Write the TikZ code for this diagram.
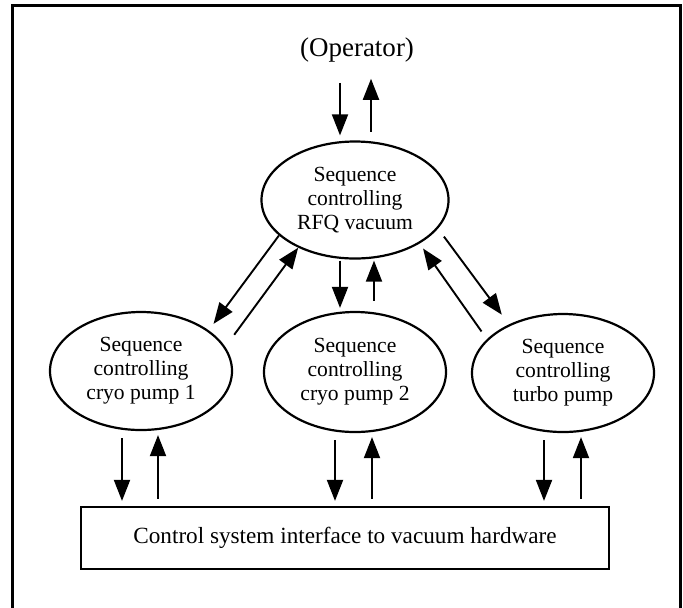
\documentclass[tikz,border=0pt]{standalone}
\usepackage{fontspec}
\setmainfont{Liberation Serif}
\usepackage{tikz}
\usetikzlibrary{shapes,arrows,arrows.meta,positioning,calc}

\begin{document}
\begin{tikzpicture}[x=0.5pt, y=-0.5pt,
    >={Triangle[length=10.5pt,width=8pt]},
    seq/.style={ellipse, draw, line width=1.1pt, inner sep=1pt, align=center,
                minimum width=91pt, minimum height=59pt,
                font=\fontsize{10.8}{12}\selectfont},
    flow/.style={->, line width=0.95pt}]
    \useasboundingbox (0,0) rectangle (683,607);
    % outer frame (open at the bottom)
    \draw[line width=1.5pt] (12,620) -- (12,5) -- (680,5) -- (680,620);

    \node[anchor=base, inner sep=0pt, font=\fontsize{13.5}{15}\selectfont] (op) at (357,56) {(Operator)};
    \node[seq, minimum width=93.5pt, minimum height=58.5pt] (rfq) at (355,200) {Sequence\\controlling\\RFQ vacuum};
    \node[seq] (cryoA) at (141,371) {Sequence\\controlling\\cryo pump 1};
    \node[seq, minimum height=60pt] (cryoB) at (355,372) {Sequence\\controlling\\cryo pump 2};
    \node[seq] (turbo) at (563,373) {Sequence\\controlling\\turbo pump};
    \node[draw, line width=1.1pt, minimum width=264pt, minimum height=31pt,
          font=\fontsize{11.6}{13}\selectfont] (hw) at (345,538) {Control system interface to vacuum hardware};

    % operator <-> RFQ vacuum
    \draw[flow, shorten <=10.3pt, shorten >=2.5pt] ($(op.south)+(-17,0)$) -- ($(rfq.north)+(-15,0)$);
    \draw[flow, shorten <=4.4pt, shorten >=8.3pt] ($(rfq.north)+(16,0)$) -- ($(op.south)+(14,0)$);

    % RFQ vacuum <-> pump sequences
    \draw[flow, shorten >=4pt] (rfq.205) -- (cryoA.31);
    \draw[flow, shorten <=7.5pt] (cryoA.16) -- (rfq.220);
    \draw[flow, shorten <=0.5pt, shorten >=1.5pt] ($(rfq.south)+(-15,0)$) -- ($(cryoB.north)+(-15,0)$);
    \draw[flow, shorten <=5pt, shorten >=0.5pt] ($(cryoB.north)+(19,0)$) -- ($(rfq.south)+(19,0)$);
    \draw[flow, shorten <=5pt, shorten >=6pt] (rfq.341) -- (turbo.138);
    \draw[flow, shorten <=4.7pt, shorten >=3pt] (turbo.156) -- (rfq.326);

    % pump sequences <-> hardware interface
    \draw[flow, shorten <=3.5pt, shorten >=2.5pt] ($(cryoA.south)+(-19,0)$) -- ($(hw.north)+(-223,0)$);
    \draw[flow, shorten <=3.5pt, shorten >=2pt] ($(hw.north)+(-187,0)$) -- ($(cryoA.south)+(17,0)$);
    \draw[flow, shorten <=3.5pt, shorten >=2.5pt] ($(cryoB.south)+(-20,0)$) -- ($(hw.north)+(-10,0)$);
    \draw[flow, shorten <=3.5pt, shorten >=2pt] ($(hw.north)+(27,0)$) -- ($(cryoB.south)+(17,0)$);
    \draw[flow, shorten <=3.5pt, shorten >=2.5pt] ($(turbo.south)+(-19,0)$) -- ($(hw.north)+(199,0)$);
    \draw[flow, shorten <=3.5pt, shorten >=2pt] ($(hw.north)+(236,0)$) -- ($(turbo.south)+(18,0)$);
\end{tikzpicture}
\end{document}
